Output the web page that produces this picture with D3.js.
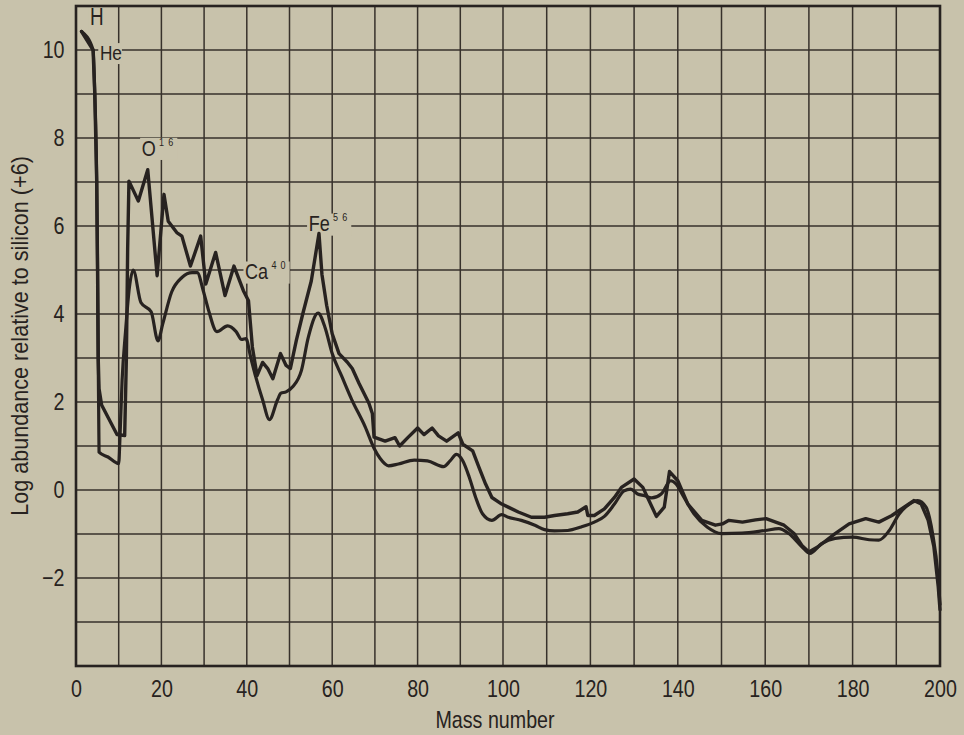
<!DOCTYPE html>
<html>
<head>
<meta charset="utf-8">
<script src="https://cdn.jsdelivr.net/npm/d3@7"></script>
<style>
  html, body { margin: 0; padding: 0; background: #c8c2ab; }
  svg { display: block; }
</style>
</head>
<body>
<svg id="chart" width="964" height="735"></svg>
<script>
// ---------------- DATA ----------------
// Mass number ticks / labels
const xGridTicks = d3.range(10, 200, 10);
const xTickLabels = [0, 20, 40, 60, 80, 100, 120, 140, 160, 180, 200];
const yGridTicks = d3.range(-3, 11, 1);
const yTickLabels = [-2, 0, 2, 4, 6, 8, 10];

// Upper (jagged) abundance curve: [mass number, log abundance]
const upperCurve = [
  [1.3,10.42],[4.0,10.0],[4.4,9.0],[4.85,7.0],[5.05,5.0],[5.2,3.0],[5.4,2.3],[6.0,1.93],[9.6,1.26],[11.4,1.24],
  [11.8,3.0],[12.1,5.5],[12.4,7.02],[14.6,6.57],[16.8,7.28],[19.0,4.87],[20.6,6.72],[21.6,6.11],
  [23.6,5.85],[24.8,5.77],[26.8,5.09],[29.2,5.77],[30.4,4.68],[32.7,5.4],[34.9,4.42],[37.0,5.09],
  [39.2,4.53],[40.4,4.3],[41.3,3.25],[42.4,2.6],[43.7,2.9],[44.9,2.76],[46.1,2.53],[47.9,3.1],
  [49.2,2.83],[50.2,2.76],[51.6,3.4],[53.1,4.0],[55.1,4.75],[56.9,5.83],[57.6,4.9],[58.7,4.2],
  [60.0,3.55],[61.6,3.1],[63.5,2.91],[64.7,2.76],[66.3,2.42],[68.6,1.97],[69.4,1.74],[69.8,1.2],
  [72.4,1.11],[74.7,1.19],[75.8,1.0],[77.7,1.19],[80.0,1.41],[81.5,1.26],[83.4,1.41],[84.9,1.23],
  [86.8,1.11],[89.5,1.3],[90.6,1.04],[92.9,0.89],[94.4,0.51],[95.9,0.14],[97.4,-0.17],[99.7,-0.32],
  [101.2,-0.39],[103.5,-0.5],[106.5,-0.62],[109.5,-0.62],[111.8,-0.58],[114.8,-0.54],[117.1,-0.5],
  [119.0,-0.38],[119.4,-0.58],[120.9,-0.58],[123.2,-0.43],[125.5,-0.17],[127.1,0.06],[130.0,0.25],
  [132.0,0.06],[135.1,-0.6],[136.9,-0.39],[138.1,0.42],[140.0,0.21],[142.3,-0.32],[145.5,-0.69],
  [148.6,-0.8],[150.2,-0.77],[151.7,-0.69],[154.8,-0.73],[157.8,-0.68],[160.2,-0.65],[162.4,-0.73],
  [164.3,-0.8],[166.6,-0.99],[168.4,-1.26],[170.0,-1.41],[172.1,-1.29],[176.0,-0.99],[179.2,-0.77],
  [183.0,-0.65],[186.0,-0.73],[189.0,-0.58],[190.6,-0.47],[194.0,-0.24],[195.7,-0.32],[197.3,-0.69],
  [198.6,-1.29],[199.6,-2.2],[200,-2.72]
];

// Lower (smooth) abundance curve: [mass number, log abundance]
const lowerCurve = [
  [1.3,10.42],[4.0,10.0],[4.4,9.0],[4.85,7.0],[5.05,5.0],[5.2,3.0],[5.3,1.9],[5.4,0.86],[7.5,0.75],
  [10.0,0.6],[10.3,1.2],[10.8,2.5],[11.6,3.6],[12.5,4.6],[13.4,5.0],[15.2,4.26],[17.6,4.05],
  [19.2,3.39],[20.3,3.77],[22.4,4.5],[24.8,4.83],[27.2,4.94],[28.4,4.94],[29.8,4.53],[31.0,4.1],
  [33.0,3.6],[35.5,3.73],[37.5,3.6],[38.8,3.42],[39.8,3.44],[40.9,3.02],[42.1,2.57],[43.7,2.05],
  [45.3,1.6],[47.2,2.05],[48.0,2.2],[49.2,2.23],[50.8,2.35],[52.8,2.72],[54.4,3.47],[56.7,4.02],
  [58.3,3.7],[60.0,3.1],[62.3,2.57],[64.6,2.05],[67.7,1.44],[69.8,0.95],[71.2,0.72],[73.2,0.55],
  [75.5,0.59],[79.2,0.68],[82.3,0.66],[86.1,0.53],[87.6,0.66],[89.1,0.81],[90.6,0.66],[92.1,0.29],
  [93.6,-0.17],[95.2,-0.54],[97.4,-0.69],[99.7,-0.56],[101.2,-0.62],[104.2,-0.69],[107.3,-0.8],
  [109.5,-0.9],[111.8,-0.93],[114.8,-0.92],[117.9,-0.84],[120.9,-0.73],[123.2,-0.6],[125.5,-0.32],
  [127.7,-0.02],[129.2,0.02],[130.8,-0.09],[132.4,-0.13],[134.0,-0.18],[136.2,-0.09],[138.4,0.21],
  [139.6,0.14],[141.2,-0.13],[143.7,-0.54],[146.7,-0.84],[150.0,-0.99],[154.7,-0.98],[160.0,-0.92],
  [163.1,-0.88],[165.4,-0.99],[168.4,-1.29],[170.2,-1.44],[172.9,-1.22],[176.0,-1.1],[180.0,-1.07],
  [183.8,-1.13],[186.0,-1.14],[188.4,-0.92],[190.7,-0.54],[193.0,-0.32],[194.9,-0.24],[196.8,-0.39],
  [198.3,-0.99],[199.5,-1.9],[200,-2.6]
];

// Element annotations: label, superscript, anchor mass number, anchor abundance
const annotations = [
  { base: "H",  sup: "",   mass: 3.3,  abund: 10.57, size: 23 },
  { base: "He", sup: "",   mass: 5.6,  abund: 9.78,  size: 21 },
  { base: "O",  sup: "16", mass: 15.4, abund: 7.6,  size: 22 },
  { base: "Ca", sup: "40", mass: 39.6, abund: 4.79,  size: 22 },
  { base: "Fe", sup: "56", mass: 54.5, abund: 5.88, size: 22 }
];

// ---------------- CHART ----------------
const FONT = "'Liberation Sans', Arial, sans-serif";
const NARROW = 0.82;   // horizontal compression to mimic the condensed lettering
const INK = "#272220";
const GRID = "#37312b";
const BG = "#c8c2ab";

const svg = d3.select("#chart");
svg.append("rect").attr("width", 964).attr("height", 735).attr("fill", BG);

const x = d3.scaleLinear().domain([0, 100, 200]).range([76, 503, 940]);
const y = d3.scaleLinear().domain([-4, 11]).range([666, 6]);

// grid
const grid = svg.append("g").attr("stroke", GRID).attr("stroke-width", 1.5);
grid.selectAll("line.v").data(xGridTicks).join("line")
  .attr("x1", d => x(d)).attr("x2", d => x(d))
  .attr("y1", y(11)).attr("y2", y(-4));
grid.selectAll("line.h").data(yGridTicks).join("line")
  .attr("x1", x(0)).attr("x2", x(200))
  .attr("y1", d => y(d)).attr("y2", d => y(d));

// axes (labels only)
const gx = svg.append("g")
  .attr("transform", `translate(0,${y(-4)})`)
  .call(d3.axisBottom(x).tickValues(xTickLabels).tickSize(0).tickPadding(14).tickFormat(d3.format("d")));
gx.select(".domain").remove();
gx.selectAll("text").attr("font-family", FONT).attr("font-size", 24).attr("fill", INK)
  .attr("transform", `scale(${NARROW},1)`);

const gy = svg.append("g")
  .attr("transform", `translate(${x(0)},0)`)
  .call(d3.axisLeft(y).tickValues(yTickLabels).tickSize(0).tickPadding(14).tickFormat(d3.format("d")));
gy.select(".domain").remove();
gy.selectAll("text").attr("font-family", FONT).attr("font-size", 24).attr("fill", INK)
  .attr("transform", `scale(${NARROW},1)`);

// axis titles
svg.append("text")
  .attr("transform", `translate(495,728) scale(${NARROW},1)`)
  .attr("text-anchor", "middle")
  .attr("font-family", FONT).attr("font-size", 24).attr("fill", INK)
  .text("Mass number");

svg.append("text")
  .attr("transform", `translate(28,${(y(11) + y(-4)) / 2}) rotate(-90) scale(0.92,1)`)
  .attr("text-anchor", "middle")
  .attr("font-family", FONT).attr("font-size", 23.5).attr("fill", INK)
  .text("Log abundance relative to silicon (+6)");

// annotations with background knock-out
const ann = svg.append("g");
annotations.forEach(a => {
  const g = ann.append("g")
    .attr("transform", `translate(${x(a.mass)},${y(a.abund)}) scale(${NARROW},1)`);
  const t = g.append("text")
    .attr("font-family", FONT).attr("font-size", a.size).attr("fill", INK);
  t.append("tspan").text(a.base);
  if (a.sup) {
    t.append("tspan")
      .attr("dx", 4).attr("dy", -a.size * 0.45)
      .attr("font-size", 11).attr("letter-spacing", 5)
      .text(a.sup);
  }
  const bb = t.node().getBBox();
  g.insert("rect", "text")
    .attr("x", bb.x - 2).attr("y", bb.y + 2)
    .attr("width", bb.width + 2).attr("height", bb.height - 2)
    .attr("fill", BG);
});

// curves
const line = d3.line().x(d => x(d[0])).y(d => y(d[1])).curve(d3.curveLinear);
const smooth = d3.line().x(d => x(d[0])).y(d => y(d[1])).curve(d3.curveMonotoneX);

svg.append("path").datum(lowerCurve)
  .attr("d", smooth)
  .attr("fill", "none").attr("stroke", INK).attr("stroke-width", 3.2)
  .attr("stroke-linejoin", "round").attr("stroke-linecap", "round");

svg.append("path").datum(upperCurve)
  .attr("d", line)
  .attr("fill", "none").attr("stroke", INK).attr("stroke-width", 3.4)
  .attr("stroke-linejoin", "round").attr("stroke-linecap", "round");

// frame
svg.append("rect")
  .attr("x", x(0)).attr("y", y(11))
  .attr("width", x(200) - x(0)).attr("height", y(-4) - y(11))
  .attr("fill", "none").attr("stroke", INK).attr("stroke-width", 2.6);
</script>
</body>
</html>
